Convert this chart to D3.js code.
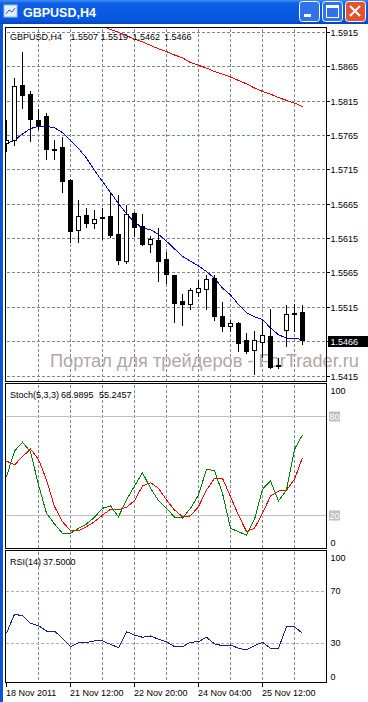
<!DOCTYPE html>
<head>
<meta charset="utf-8">
<script src="https://d3js.org/d3.v7.min.js"></script>
<style>
  body { margin: 0; background: #fff; overflow: hidden; }
  text { font-family: "Liberation Sans", Arial, sans-serif; font-size: 9px; }
  .grid { stroke: #778899; stroke-dasharray: 3,2; shape-rendering: crispEdges; }
  .frame { fill: none; stroke: #000; shape-rendering: crispEdges; }
  .ind { fill: none; stroke-width: 1; shape-rendering: crispEdges; }
</style>
</head>
<body>
<div id="chart"></div>
<script>
// GBPUSD H4, 38 bars
var open  = [1.5754,1.5757,1.5838,1.5825,1.5787,1.5793,1.5745,1.5747,1.5700,1.5626,1.5649,1.5636,1.5644,1.5647,1.5621,1.5582,1.5652,1.5632,1.5606,1.5612,1.5584,1.5561,1.5523,1.5519,1.5537,1.5540,1.5557,1.5501,1.5487,1.5491,1.5466,1.5451,1.5464,1.5473,1.5431,1.5480,1.5506,1.5507];
var high  = [1.5787,1.5849,1.5886,1.5829,1.5804,1.5797,1.5759,1.5763,1.5701,1.5671,1.5660,1.5657,1.5660,1.5681,1.5678,1.5664,1.5653,1.5651,1.5619,1.5631,1.5596,1.5561,1.5534,1.5543,1.5555,1.5562,1.5562,1.5522,1.5496,1.5493,1.5478,1.5481,1.5496,1.5513,1.5441,1.5518,1.5520,1.5519];
var low   = [1.5743,1.5751,1.5805,1.5757,1.5775,1.5731,1.5731,1.5682,1.5610,1.5610,1.5632,1.5630,1.5615,1.5617,1.5578,1.5580,1.5619,1.5605,1.5596,1.5553,1.5551,1.5493,1.5489,1.5512,1.5532,1.5512,1.5497,1.5481,1.5480,1.5452,1.5449,1.5418,1.5443,1.5427,1.5426,1.5458,1.5481,1.5462];
var close = [1.5758,1.5836,1.5824,1.5789,1.5779,1.5745,1.5744,1.5697,1.5626,1.5647,1.5637,1.5642,1.5645,1.5620,1.5583,1.5650,1.5631,1.5606,1.5613,1.5582,1.5562,1.5520,1.5519,1.5539,1.5543,1.5555,1.5501,1.5487,1.5491,1.5462,1.5450,1.5466,1.5474,1.5428,1.5429,1.5504,1.5505,1.5466];

// moving averages (blue = short, red = long, off the top before bar 12)
var maBlue = [1.5753,1.5758,1.5767,1.5775,1.5778,1.5778,1.5776,1.5769,1.5758,1.5746,1.5732,1.5714,1.5698,1.5682,1.5666,1.5651,1.5639,1.5630,1.5628,1.5621,1.5611,1.5600,1.5589,1.5582,1.5575,1.5567,1.5557,1.5543,1.5533,1.5519,1.5507,1.5501,1.5497,1.5485,1.5475,1.5470,1.5470,1.5468];
var maRed = [null,null,null,null,null,null,null,null,null,null,null,null,1.5924,1.5919,1.5915,1.5910,1.5905,1.5901,1.5896,1.5891,1.5887,1.5882,1.5878,1.5871,1.5867,1.5863,1.5858,1.5854,1.5850,1.5845,1.5840,1.5834,1.5829,1.5825,1.5820,1.5816,1.5812,1.5807];

var stochMain   = [43.7,59.2,64.5,58.8,38.7,21.6,15.1,9.5,9.5,12.5,15.1,19.2,24.6,26.0,19.5,29.6,38.1,46.1,36.7,29.2,24.6,19.2,18.7,24.6,32.6,48.2,47.3,33.7,12.5,10.5,8.3,17.9,36.1,41.1,29.0,35.6,60.2,68.9895];
var stochSignal = [53.2,50.8,55.8,60.4,54.2,41.7,25.6,16.5,11.1,11.1,13.5,16.5,20.5,24.0,23.6,25.2,29.2,38.1,40.1,36.7,29.6,23.6,19.5,20.0,25.6,35.6,42.7,42.7,31.6,20.5,10.5,12.5,21.6,32.0,35.0,35.6,42.1,55.2457];
var rsi = [37.6,52.2,51.1,45.3,43.5,39.4,39.4,33.8,27.4,30.5,30.5,31.8,31.8,29.2,26.6,38.9,36.3,34.6,35.6,33.1,31.2,27.4,27.4,30.8,31.2,34.6,29.5,28.2,28.7,26.2,24.9,28.2,30.8,26.2,26.2,42.7,42.7,37.5];

var priceTicks = [1.5915,1.5865,1.5815,1.5765,1.5715,1.5665,1.5615,1.5565,1.5515,1.5465,1.5415];
var gridBars = [4,8,12,16,20,24,28,32,36];
var timeBars = [0,8,16,24,32];
var timeLabels = ["18 Nov 2011","21 Nov 12:00","22 Nov 20:00","24 Nov 04:00","25 Nov 12:00"];
var stochLevels = [80,20];
var rsiLevels = [70,30];

var W = 368, H = 702;
var plotL = 5.5, plotR = 326.5;
var mainP = {top: 27.5, bottom: 381.5};
var stochP = {top: 383.5, bottom: 548.5};
var rsiP = {top: 550.5, bottom: 682.5};

var svg = d3.select("#chart").append("svg")
    .attr("width", W)
    .attr("height", H);

var defs = svg.append("defs");
var grad = defs.append("linearGradient").attr("id", "title").attr("x1", 0).attr("y1", 0).attr("x2", 0).attr("y2", 1);
grad.append("stop").attr("offset", "0%").attr("stop-color", "#3d8df6");
grad.append("stop").attr("offset", "15%").attr("stop-color", "#0d5ee4");
grad.append("stop").attr("offset", "85%").attr("stop-color", "#0657e0");
grad.append("stop").attr("offset", "100%").attr("stop-color", "#0444b8");

[["clipMain", mainP], ["clipStoch", stochP], ["clipRsi", rsiP]].forEach(function(c) {
    defs.append("clipPath").attr("id", c[0]).append("rect")
        .attr("x", plotL + 0.5).attr("y", c[1].top + 0.5)
        .attr("width", plotR - plotL - 1).attr("height", c[1].bottom - c[1].top - 1);
});

// window frame
svg.append("rect").attr("x", 0).attr("y", 0).attr("width", W).attr("height", 24).attr("fill", "url(#title)");
svg.append("rect").attr("x", 0).attr("y", 24).attr("width", 3).attr("height", H - 24).attr("fill", "#0a56d8");

var icon = svg.append("g").attr("transform", "translate(4,5)");
icon.append("rect").attr("width", 13).attr("height", 12).attr("fill", "#e8f0ff").attr("stroke", "#9ab8e8");
icon.append("path").attr("d", "M2,9 L5,5 L8,7 L11,3").attr("fill", "none").attr("stroke", "#2a5fc0");
svg.append("text").attr("x", 23).attr("y", 17).attr("fill", "#fff")
    .style("font-size", "12.5px").style("font-weight", "bold").text("GBPUSD,H4");

var btns = [{x: 299, c: "#2f72ec"}, {x: 322, c: "#2f72ec"}, {x: 345, c: "#e2532f"}];
btns.forEach(function(b) {
    svg.append("rect").attr("x", b.x + 0.5).attr("y", 1.5).attr("width", 20).attr("height", 20)
        .attr("rx", 3).attr("fill", b.c).attr("stroke", "#fff");
});
svg.append("rect").attr("x", 304).attr("y", 14).attr("width", 7).attr("height", 3).attr("fill", "#fff");
svg.append("rect").attr("x", 326.5).attr("y", 5.5).attr("width", 12).attr("height", 12).attr("fill", "none").attr("stroke", "#fff");
svg.append("rect").attr("x", 326).attr("y", 5).attr("width", 13).attr("height", 3).attr("fill", "#fff");
svg.append("path").attr("d", "M350,6 L360,16 M360,6 L350,16").attr("stroke", "#fff").attr("stroke-width", 2);

// scales
var x = d3.scaleLinear().domain([0, 37]).range([6.5, 302.5]);
var yP = d3.scaleLinear().domain([1.5415, 1.5915]).range([376, 32.3]);
var yS = d3.scaleLinear().domain([0, 100]).range([549, 383.5]);
var yR = d3.scaleLinear().domain([0, 100]).range([682.5, 551.8]);

var bars = d3.range(open.length);
var last = bars.length - 1;
var crisp = function(v) { return Math.round(v - 0.5) + 0.5; };

// header line made of pieces at fixed x
function header(yy, parts, xs) {
    var t = svg.append("text").attr("y", yy);
    parts.forEach(function(p, i) {
        t.append("tspan").attr("x", xs[i]).text(p);
    });
}

// vertical grid through all panels
[mainP, stochP, rsiP].forEach(function(p) {
    svg.append("g").selectAll("line").data(gridBars).enter().append("line")
        .attr("class", "grid")
        .attr("x1", function(d) { return x(d); }).attr("x2", function(d) { return x(d); })
        .attr("y1", p.top + 1).attr("y2", p.bottom);
});

// main price panel
svg.append("g").selectAll("line").data(priceTicks).enter().append("line")
    .attr("class", "grid")
    .attr("x1", plotL + 1).attr("x2", plotR)
    .attr("y1", function(d) { return crisp(yP(d)); }).attr("y2", function(d) { return crisp(yP(d)); });

svg.append("text").attr("x", 50).attr("y", 367).attr("fill", "#b3a6a6")
    .attr("textLength", 309).attr("lengthAdjust", "spacingAndGlyphs")
    .style("font-size", "17.5px").text("Портал для трейдеров - ForTrader.ru");

var main = svg.append("g").attr("clip-path", "url(#clipMain)");

var lineP = function(arr) {
    return d3.line()
        .defined(function(d) { return arr[d] != null; })
        .x(function(d) { return x(d); })
        .y(function(d) { return yP(arr[d]); })(bars);
};
main.append("path").attr("class", "ind").attr("stroke", "#0000e0").attr("d", lineP(maBlue));
main.append("path").attr("class", "ind").attr("stroke", "#ff0000").attr("d", lineP(maRed));

var candle = main.selectAll(".candle").data(bars).enter().append("g").attr("class", "candle");
candle.append("line")
    .attr("x1", function(d) { return x(d); }).attr("x2", function(d) { return x(d); })
    .attr("y1", function(d) { return Math.round(yP(high[d])); })
    .attr("y2", function(d) { return Math.round(yP(low[d])) + 1; })
    .attr("stroke", "#000").style("shape-rendering", "crispEdges");
candle.append("rect")
    .attr("x", function(d) { return x(d) - 2; })
    .attr("width", 4)
    .attr("y", function(d) { return crisp(yP(Math.max(open[d], close[d]))); })
    .attr("height", function(d) {
        return Math.max(0, Math.round(yP(Math.min(open[d], close[d])) - yP(Math.max(open[d], close[d]))));
    })
    .attr("fill", function(d) { return close[d] >= open[d] ? "#fff" : "#000"; })
    .attr("stroke", "#000").style("shape-rendering", "crispEdges");

header(40, ["GBPUSD,H4"].concat([open[last], high[last], low[last], close[last]].map(function(v) { return v.toFixed(4); })),
    [10, 70.5, 100.5, 132.5, 164]);

// price axis
var axisG = svg.append("g");
priceTicks.forEach(function(p) {
    var yy = crisp(yP(p));
    axisG.append("line").attr("x1", plotR).attr("x2", plotR + 3).attr("y1", yy).attr("y2", yy)
        .attr("stroke", "#000").style("shape-rendering", "crispEdges");
    if (Math.abs(p - close[last]) > 0.0003) {
        axisG.append("text").attr("x", 330.5).attr("y", yy).attr("dy", "0.35em").text(p.toFixed(4));
    }
});
var cy = Math.round(yP(close[last]));
axisG.append("rect").attr("x", 328).attr("y", cy - 5).attr("width", 40).attr("height", 11).attr("fill", "#000");
axisG.append("text").attr("x", 330.5).attr("y", cy + 0.5).attr("dy", "0.35em").attr("fill", "#fff")
    .text(close[last].toFixed(4));

// stochastic panel
var stoch = svg.append("g").attr("clip-path", "url(#clipStoch)");
stoch.selectAll("line").data(stochLevels).enter().append("line")
    .attr("x1", plotL).attr("x2", plotR)
    .attr("y1", function(d) { return crisp(yS(d)); }).attr("y2", function(d) { return crisp(yS(d)); })
    .attr("stroke", "#c0c0c0").style("shape-rendering", "crispEdges");
var lineS = function(arr, ys) {
    return d3.line().x(function(d) { return x(d); }).y(function(d) { return ys(arr[d]); })(bars);
};
stoch.append("path").attr("class", "ind").attr("stroke", "#ff0000").attr("d", lineS(stochSignal, yS));
stoch.append("path").attr("class", "ind").attr("stroke", "#008000").attr("d", lineS(stochMain, yS));

header(397.5, ["Stoch(5,3,3)", stochMain[last].toFixed(4), stochSignal[last].toFixed(4)], [10, 61, 99]);
svg.append("text").attr("x", 330.5).attr("y", stochP.top + 7).attr("dy", "0.35em").text("100");
svg.append("text").attr("x", 330.5).attr("y", stochP.bottom - 6).attr("dy", "0.35em").text("0");
stochLevels.forEach(function(l) {
    var yy = crisp(yS(l));
    svg.append("rect").attr("x", 329).attr("y", yy - 5).attr("width", 11).attr("height", 10).attr("fill", "#c0c0c0");
    svg.append("text").attr("x", 329.5).attr("y", yy).attr("dy", "0.35em").attr("fill", "#fff").text(l);
});

// RSI panel
var rsiG = svg.append("g").attr("clip-path", "url(#clipRsi)");
rsiG.selectAll("line").data(rsiLevels).enter().append("line")
    .attr("x1", plotL).attr("x2", plotR)
    .attr("y1", function(d) { return crisp(yR(d)); }).attr("y2", function(d) { return crisp(yR(d)); })
    .attr("stroke", "#b0b0b0").attr("stroke-dasharray", "3,2").style("shape-rendering", "crispEdges");
rsiG.append("path").attr("class", "ind").attr("stroke", "#1e1e8c").attr("d", lineS(rsi, yR));

header(565, ["RSI(14)", rsi[last].toFixed(4)], [10, 43]);
[100, 70, 30, 0].forEach(function(l) {
    var yy = l == 100 ? rsiP.top + 7 : (l == 0 ? rsiP.bottom - 6 : yR(l));
    svg.append("text").attr("x", 330.5).attr("y", yy).attr("dy", "0.35em").text(l);
});

// panel borders
[mainP, stochP, rsiP].forEach(function(p) {
    svg.append("rect").attr("class", "frame")
        .attr("x", plotL).attr("y", p.top)
        .attr("width", plotR - plotL).attr("height", p.bottom - p.top);
});

// time axis
timeBars.forEach(function(b, i) {
    svg.append("line").attr("x1", x(b)).attr("x2", x(b)).attr("y1", rsiP.bottom).attr("y2", rsiP.bottom + 4)
        .attr("stroke", "#000").style("shape-rendering", "crispEdges");
    svg.append("text").attr("x", x(b) - 0.5).attr("y", 695.5).text(timeLabels[i]);
});
</script>
</body>
